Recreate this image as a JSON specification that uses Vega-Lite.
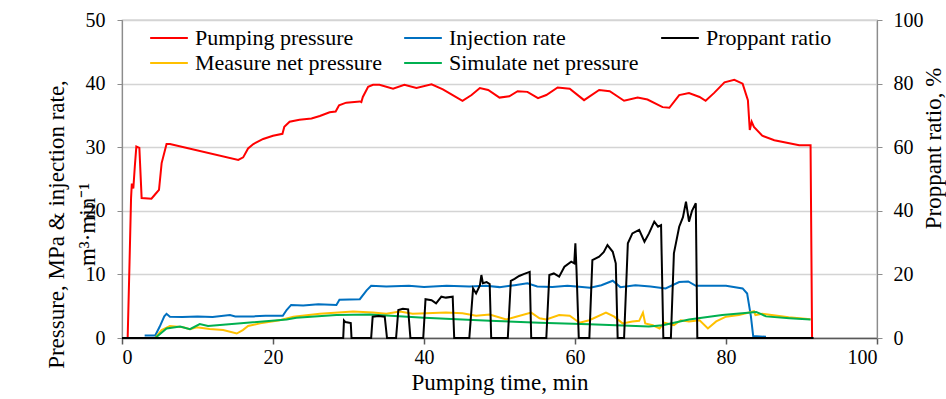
{
  "$schema": "https://vega.github.io/schema/vega-lite/v6.json",
  "width": 755,
  "height": 318,
  "autosize": "none",
  "padding": {"left": 122, "top": 20, "right": 69, "bottom": 61},
  "background": "white",
  "config": {
    "font": "Liberation Serif",
    "view": {"stroke": "#8c8c8c", "strokeWidth": 1.2},
    "style": {
      "guide-label": {"font": "Liberation Serif", "fill": "black"},
      "guide-title": {"font": "Liberation Serif", "fill": "black", "fontWeight": "normal"}
    },
    "axis": {
      "labelFont": "Liberation Serif",
      "titleFont": "Liberation Serif",
      "labelColor": "black",
      "titleColor": "black",
      "labelFontSize": 20,
      "titleFontSize": 23,
      "titleFontWeight": "normal"
    },
    "legend": {"labelFont": "Liberation Serif"}
  },
  "datasets": {
    "pumping": [
      {"t": 0.75, "v": 0}, {"t": 1.0, "v": 12}, {"t": 1.2, "v": 22}, {"t": 1.3, "v": 24.3}, {"t": 1.5, "v": 23.5},
      {"t": 1.7, "v": 27}, {"t": 1.9, "v": 30.1}, {"t": 2.3, "v": 29.9}, {"t": 2.6, "v": 22.0}, {"t": 3.9, "v": 21.9},
      {"t": 4.4, "v": 22.6}, {"t": 4.9, "v": 23.3}, {"t": 5.25, "v": 27.5}, {"t": 5.9, "v": 30.5}, {"t": 6.35, "v": 30.5},
      {"t": 15.4, "v": 28.0}, {"t": 16.05, "v": 28.4}, {"t": 16.7, "v": 29.8}, {"t": 17.4, "v": 30.5}, {"t": 18.7, "v": 31.3},
      {"t": 20.0, "v": 31.8}, {"t": 21.25, "v": 32.1}, {"t": 21.5, "v": 33.2}, {"t": 22.2, "v": 34.0}, {"t": 23.5, "v": 34.3},
      {"t": 25.1, "v": 34.5}, {"t": 26.2, "v": 34.9}, {"t": 27.5, "v": 35.5}, {"t": 28.3, "v": 35.6}, {"t": 28.75, "v": 36.6},
      {"t": 29.7, "v": 37.0}, {"t": 31.5, "v": 37.2}, {"t": 31.7, "v": 37.1}, {"t": 31.9, "v": 37.9}, {"t": 32.6, "v": 39.5},
      {"t": 33.25, "v": 39.8}, {"t": 34.1, "v": 39.8}, {"t": 35.9, "v": 39.2}, {"t": 37.4, "v": 39.8}, {"t": 39.0, "v": 39.3},
      {"t": 41.0, "v": 39.9}, {"t": 42.5, "v": 39.1}, {"t": 43.8, "v": 38.2}, {"t": 45.1, "v": 37.3}, {"t": 46.3, "v": 38.2},
      {"t": 47.4, "v": 39.3}, {"t": 48.5, "v": 39.0}, {"t": 50.0, "v": 37.8}, {"t": 51.3, "v": 38.0}, {"t": 52.4, "v": 38.8},
      {"t": 53.7, "v": 38.7}, {"t": 55.1, "v": 37.7}, {"t": 56.2, "v": 38.2}, {"t": 57.7, "v": 39.4}, {"t": 59.3, "v": 39.2},
      {"t": 61.2, "v": 37.4}, {"t": 63.2, "v": 39.0}, {"t": 64.6, "v": 38.8}, {"t": 66.5, "v": 37.3}, {"t": 68.3, "v": 37.8},
      {"t": 69.6, "v": 37.5}, {"t": 71.6, "v": 36.3}, {"t": 72.5, "v": 36.2}, {"t": 73.8, "v": 38.2}, {"t": 75.1, "v": 38.5},
      {"t": 76.5, "v": 37.9}, {"t": 77.3, "v": 37.3}, {"t": 78.4, "v": 38.5}, {"t": 79.8, "v": 40.2}, {"t": 81.1, "v": 40.6},
      {"t": 82.2, "v": 40.0}, {"t": 82.6, "v": 38.5}, {"t": 82.9, "v": 37.4}, {"t": 83.15, "v": 32.7}, {"t": 83.4, "v": 34.0},
      {"t": 83.7, "v": 33.2}, {"t": 84.8, "v": 31.8}, {"t": 86.4, "v": 31.1}, {"t": 89.7, "v": 30.3}, {"t": 91.2, "v": 30.3},
      {"t": 91.4, "v": 0}
    ],
    "injection": [
      {"t": 3.0, "v": 0.4}, {"t": 4.4, "v": 0.4}, {"t": 5.0, "v": 1.8}, {"t": 5.6, "v": 3.4}, {"t": 5.9, "v": 3.8},
      {"t": 6.35, "v": 3.35}, {"t": 8, "v": 3.3}, {"t": 10, "v": 3.4}, {"t": 12, "v": 3.3}, {"t": 14.3, "v": 3.6},
      {"t": 15, "v": 3.4}, {"t": 17.4, "v": 3.4}, {"t": 19, "v": 3.5}, {"t": 21.3, "v": 3.5}, {"t": 21.8, "v": 4.4},
      {"t": 22.4, "v": 5.2}, {"t": 24, "v": 5.1}, {"t": 26, "v": 5.3}, {"t": 28.4, "v": 5.2}, {"t": 28.8, "v": 6.0},
      {"t": 31.5, "v": 6.1}, {"t": 32.4, "v": 7.5}, {"t": 33.0, "v": 8.2}, {"t": 35, "v": 8.1}, {"t": 38, "v": 8.2},
      {"t": 40, "v": 8.0}, {"t": 43, "v": 8.2}, {"t": 46, "v": 8.1}, {"t": 48.2, "v": 8.2}, {"t": 50, "v": 8.0},
      {"t": 52, "v": 8.3}, {"t": 53.7, "v": 8.6}, {"t": 55, "v": 8.1}, {"t": 57, "v": 8.0}, {"t": 59, "v": 8.2},
      {"t": 60.2, "v": 8.1}, {"t": 62, "v": 7.9}, {"t": 63.5, "v": 8.3}, {"t": 65.0, "v": 9.0}, {"t": 66, "v": 8.0},
      {"t": 68, "v": 8.3}, {"t": 70, "v": 8.1}, {"t": 72, "v": 7.8}, {"t": 73.8, "v": 8.8}, {"t": 75, "v": 8.9},
      {"t": 76, "v": 8.2}, {"t": 78, "v": 8.2}, {"t": 80, "v": 8.2}, {"t": 82.2, "v": 7.8}, {"t": 82.8, "v": 7.0},
      {"t": 83.3, "v": 3.4}, {"t": 83.6, "v": 0.3}, {"t": 85.3, "v": 0.2}
    ],
    "measure": [
      {"t": 4.4, "v": 0}, {"t": 5.25, "v": 1.25}, {"t": 6.35, "v": 1.9}, {"t": 8.1, "v": 1.7}, {"t": 9.0, "v": 1.4},
      {"t": 9.9, "v": 1.7}, {"t": 11.6, "v": 1.4}, {"t": 13.4, "v": 1.25}, {"t": 15.2, "v": 0.7}, {"t": 16.0, "v": 1.25},
      {"t": 16.7, "v": 1.9}, {"t": 18.3, "v": 2.3}, {"t": 20.9, "v": 2.8}, {"t": 22.7, "v": 3.35}, {"t": 26.2, "v": 3.8},
      {"t": 30.6, "v": 4.15}, {"t": 33.25, "v": 4.0}, {"t": 35.0, "v": 3.8}, {"t": 36.8, "v": 4.15}, {"t": 38.5, "v": 3.8},
      {"t": 40.3, "v": 3.9}, {"t": 42.9, "v": 4.0}, {"t": 45.1, "v": 3.9}, {"t": 46.9, "v": 3.5}, {"t": 48.7, "v": 3.7},
      {"t": 50.9, "v": 2.9}, {"t": 52.2, "v": 3.35}, {"t": 54.2, "v": 4.0}, {"t": 55.3, "v": 3.1}, {"t": 56.2, "v": 2.9},
      {"t": 57.9, "v": 3.6}, {"t": 59.3, "v": 3.5}, {"t": 60.6, "v": 2.4}, {"t": 61.9, "v": 2.8}, {"t": 64.1, "v": 4.0},
      {"t": 65.2, "v": 3.35}, {"t": 66.3, "v": 2.3}, {"t": 67.6, "v": 2.6}, {"t": 68.5, "v": 2.7}, {"t": 69.0, "v": 4.0},
      {"t": 69.3, "v": 2.3}, {"t": 70.3, "v": 2.0}, {"t": 71.2, "v": 1.5}, {"t": 71.8, "v": 2.4}, {"t": 73.1, "v": 2.0},
      {"t": 74.0, "v": 2.8}, {"t": 75.1, "v": 2.6}, {"t": 76.5, "v": 2.8}, {"t": 77.6, "v": 1.5}, {"t": 78.7, "v": 2.6},
      {"t": 80.0, "v": 3.35}, {"t": 81.7, "v": 3.6}, {"t": 83.7, "v": 4.2}, {"t": 83.9, "v": 3.6}, {"t": 84.8, "v": 3.8},
      {"t": 88.3, "v": 3.25}, {"t": 91.2, "v": 2.95}
    ],
    "simulate": [
      {"t": 4.4, "v": 0}, {"t": 5.9, "v": 1.5}, {"t": 7.7, "v": 1.8}, {"t": 9.0, "v": 1.4}, {"t": 10.3, "v": 2.2},
      {"t": 11.4, "v": 1.9}, {"t": 21.8, "v": 2.9}, {"t": 23.1, "v": 3.2}, {"t": 28.4, "v": 3.6}, {"t": 32.8, "v": 3.7},
      {"t": 40, "v": 3.2}, {"t": 48.7, "v": 2.7}, {"t": 55.3, "v": 2.4}, {"t": 61.9, "v": 2.15}, {"t": 69.8, "v": 1.8},
      {"t": 71.6, "v": 2.0}, {"t": 75.1, "v": 2.9}, {"t": 79.5, "v": 3.6}, {"t": 84.0, "v": 4.1}, {"t": 85.3, "v": 3.4},
      {"t": 88.4, "v": 3.1}, {"t": 91.2, "v": 2.9}
    ],
    "proppant": [
      {"t": 0, "v": 0}, {"t": 29.3, "v": 0}, {"t": 29.4, "v": 5.5}, {"t": 29.6, "v": 5.0}, {"t": 30.1, "v": 4.8},
      {"t": 30.3, "v": 4.7}, {"t": 30.4, "v": 0}, {"t": 33.0, "v": 0}, {"t": 33.2, "v": 6.7}, {"t": 34.0, "v": 6.9},
      {"t": 34.8, "v": 6.7}, {"t": 35.1, "v": 0}, {"t": 36.3, "v": 0}, {"t": 36.6, "v": 8.8}, {"t": 37.2, "v": 9.2},
      {"t": 37.9, "v": 9.0}, {"t": 38.2, "v": 0}, {"t": 39.9, "v": 0}, {"t": 40.2, "v": 12.2}, {"t": 41.0, "v": 11.9},
      {"t": 41.6, "v": 10.9}, {"t": 42.3, "v": 13.0}, {"t": 42.9, "v": 12.7}, {"t": 43.8, "v": 13.0}, {"t": 44.0, "v": 0},
      {"t": 46.0, "v": 0}, {"t": 46.5, "v": 15.6}, {"t": 46.9, "v": 14.0}, {"t": 47.4, "v": 16.5}, {"t": 47.6, "v": 19.8},
      {"t": 47.8, "v": 17.2}, {"t": 48.3, "v": 17.6}, {"t": 48.7, "v": 17.0}, {"t": 48.9, "v": 0}, {"t": 51.1, "v": 0},
      {"t": 51.5, "v": 18.0}, {"t": 52.0, "v": 18.6}, {"t": 52.6, "v": 19.5}, {"t": 53.2, "v": 20.1}, {"t": 54.0, "v": 20.8},
      {"t": 54.2, "v": 0}, {"t": 56.2, "v": 0}, {"t": 56.6, "v": 19.8}, {"t": 57.2, "v": 20.3}, {"t": 57.9, "v": 19.3},
      {"t": 58.6, "v": 22.4}, {"t": 59.5, "v": 24.0}, {"t": 59.9, "v": 23.5}, {"t": 60.05, "v": 29.8}, {"t": 60.2, "v": 21.4},
      {"t": 60.5, "v": 0}, {"t": 61.9, "v": 0}, {"t": 62.3, "v": 24.5}, {"t": 63.2, "v": 25.6}, {"t": 63.8, "v": 27.0},
      {"t": 64.3, "v": 29.2}, {"t": 65.0, "v": 27.1}, {"t": 65.4, "v": 23.5}, {"t": 65.65, "v": 0}, {"t": 66.5, "v": 0},
      {"t": 67.0, "v": 29.8}, {"t": 67.6, "v": 32.9}, {"t": 68.5, "v": 34.0}, {"t": 69.2, "v": 30.3}, {"t": 69.8, "v": 32.9},
      {"t": 70.5, "v": 36.6}, {"t": 71.0, "v": 35.0}, {"t": 71.4, "v": 35.5}, {"t": 71.7, "v": 0}, {"t": 72.7, "v": 0},
      {"t": 73.1, "v": 26.6}, {"t": 73.8, "v": 35.0}, {"t": 74.3, "v": 38.0}, {"t": 74.7, "v": 42.9}, {"t": 75.1, "v": 36.6},
      {"t": 75.5, "v": 40.0}, {"t": 76.0, "v": 42.4}, {"t": 76.2, "v": 0}, {"t": 91.6, "v": 0}
    ]
  },
  "encoding": {
    "x": {
      "field": "t",
      "type": "quantitative",
      "scale": {"domain": [0, 100], "nice": false},
      "axis": {
        "title": "Pumping time, min",
        "values": [0, 20, 40, 60, 80, 100],
        "grid": false,
        "labelFont": "Liberation Serif",
        "titleFont": "Liberation Serif",
        "labelFontSize": 20,
        "titleFontSize": 23,
        "domainColor": "#595959",
        "domainWidth": 1.5,
        "tickColor": "#595959",
        "tickWidth": 1.5,
        "tickSize": 6,
        "labelPadding": 3,
        "titlePadding": 4
      }
    }
  },
  "layer": [
    {
      "encoding": {
        "y": {
          "field": "v",
          "type": "quantitative",
          "scale": {"domain": [0, 50], "nice": false},
          "axis": {
            "title": ["Pressure, MPa & injection rate,", "m³·min⁻¹"],
            "values": [0, 10, 20, 30, 40, 50],
            "grid": true,
            "gridColor": "#d4d4d4",
            "gridWidth": 1.5,
            "labelFont": "Liberation Serif",
            "titleFont": "Liberation Serif",
            "labelFontSize": 20,
            "titleFontSize": 23,
            "domainColor": "#8c8c8c",
            "domainWidth": 1.2,
            "tickColor": "#8c8c8c",
            "tickSize": 5,
            "labelPadding": 12,
            "titleLineHeight": 31,
            "titleAngle": 270,
            "titleBaseline": "bottom",
            "titleAlign": "center",
            "titleX": -54,
            "titleY": 204
          }
        }
      },
      "layer": [
        {
          "data": {"name": "pumping"},
          "mark": {"type": "line", "strokeWidth": 2},
          "encoding": {
            "color": {
              "datum": "Pumping pressure",
              "scale": {
                "domain": ["Pumping pressure", "Injection rate", "Proppant ratio", "Measure net pressure", "Simulate net pressure"],
                "range": ["#ff0000", "#0070c0", "#000000", "#ffc000", "#00b050"]
              },
              "legend": {
                "title": null,
                "orient": "none",
                "legendX": 33,
                "legendY": 4,
                "columns": 3,
                "direction": "horizontal",
                "symbolType": "M-1.45,0H1.45",
                "symbolSize": 676,
                "symbolStrokeWidth": 2,
                "labelFont": "Liberation Serif",
                "labelFontSize": 22,
                "labelColor": "black",
                "labelLimit": 0,
                "labelOffset": 12,
                "columnPadding": 18,
                "rowPadding": 0,
                "padding": 0
              }
            }
          }
        },
        {
          "data": {"name": "injection"},
          "mark": {"type": "line", "strokeWidth": 2},
          "encoding": {"color": {"datum": "Injection rate"}}
        },
        {
          "data": {"name": "measure"},
          "mark": {"type": "line", "strokeWidth": 2},
          "encoding": {"color": {"datum": "Measure net pressure"}}
        },
        {
          "data": {"name": "simulate"},
          "mark": {"type": "line", "strokeWidth": 2},
          "encoding": {"color": {"datum": "Simulate net pressure"}}
        }
      ]
    },
    {
      "data": {"name": "proppant"},
      "mark": {"type": "line", "strokeWidth": 2},
      "encoding": {
        "y": {
          "field": "v",
          "type": "quantitative",
          "scale": {"domain": [0, 100], "nice": false},
          "axis": {
            "orient": "right",
            "title": "Proppant ratio, %",
            "values": [0, 20, 40, 60, 80, 100],
            "grid": false,
            "labelFont": "Liberation Serif",
            "titleFont": "Liberation Serif",
            "labelFontSize": 20,
            "titleFontSize": 23,
            "domainColor": "#8c8c8c",
            "domainWidth": 1.2,
            "tickColor": "#8c8c8c",
            "tickSize": 5,
            "labelPadding": 11,
            "titleAngle": 270,
            "titleBaseline": "middle",
            "titleAlign": "center",
            "titleX": 56,
            "titleY": 128
          }
        },
        "color": {"datum": "Proppant ratio"}
      }
    }
  ],
  "resolve": {"scale": {"y": "independent"}}
}
